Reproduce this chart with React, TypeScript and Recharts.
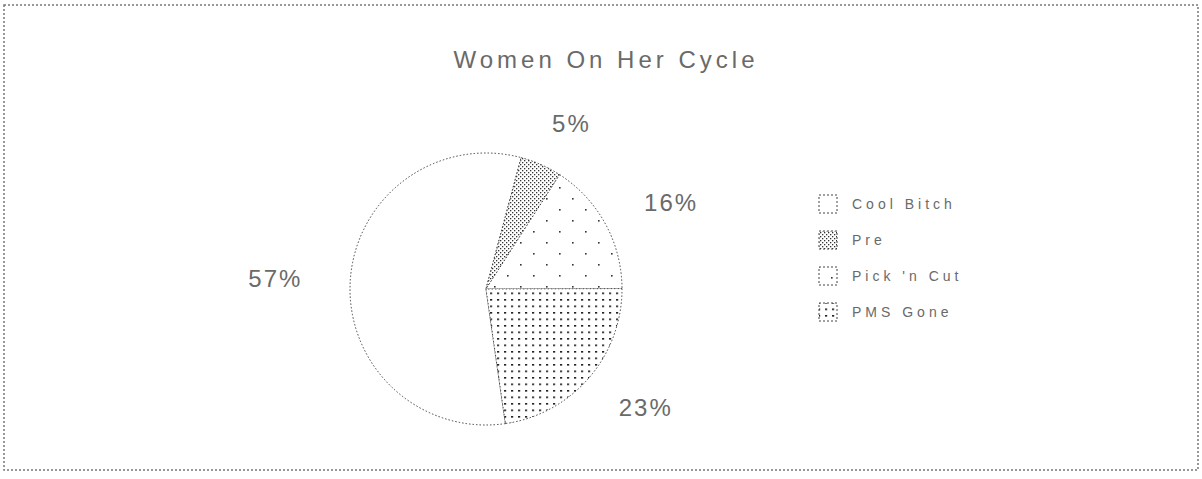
import { Pie, PieChart, Cell, Legend } from "recharts";

const categories = ["Cool Bitch", "Pre", "Pick 'n Cut", "PMS Gone"];
const percents = [57, 5, 16, 23];
const fills = ["#ffffff", "url(#patDense)", "url(#patSparse)", "url(#patGrid)"];

const chartTitle = "Women On Her Cycle";

const data = categories.map((name, i) => ({ name, value: percents[i] }));

const RADIAN = Math.PI / 180;
const FONT = "'Liberation Sans', Arial, sans-serif";
const INK = "#6a6a6a";

// labels sit on a flattened ring round the pie, like the old excel layout
function renderLabel(props: any) {
  const { cx, cy, midAngle, outerRadius, value } = props;
  const rx = outerRadius + 75;
  const ry = outerRadius + 45;
  const x = cx + rx * Math.cos(-midAngle * RADIAN);
  const y = cy + ry * Math.sin(-midAngle * RADIAN);
  return (
    <text
      x={x}
      y={y}
      textAnchor="middle"
      dominantBaseline="central"
      fontSize={24}
      fontFamily={FONT}
      fill={INK}
      letterSpacing={2}
    >
      {value}%
    </text>
  );
}

// payload order gets sorted by recharts, so draw the items in data order
function LegendBox() {
  return (
    <div style={{ fontFamily: FONT }}>
      {categories.map((name, i) => (
        <div key={name} style={{ display: "flex", alignItems: "center", height: 36 }}>
          <svg width={20} height={20} style={{ marginRight: 14 }}>
            <rect x={1} y={1} width={18} height={18} fill={fills[i]} stroke="#444" strokeWidth={1} strokeDasharray="2 2" />
          </svg>
          <span style={{ fontSize: 14, color: INK, letterSpacing: 4 }}>{name}</span>
        </div>
      ))}
    </div>
  );
}

export default function App() {
  return (
    <div style={{ position: "absolute", left: 0, top: 0, width: 1202, height: 479, background: "#fff" }}>
      <svg width={0} height={0} style={{ position: "absolute" }}>
        <defs>
          <pattern id="patDense" width={4} height={4} patternUnits="userSpaceOnUse">
            <rect width={4} height={4} fill="#fff" />
            <rect x={0} y={0} width={1.3} height={1.3} fill="#333" />
            <rect x={2} y={2} width={1.3} height={1.3} fill="#333" />
          </pattern>
          <pattern id="patSparse" width={26} height={22} patternUnits="userSpaceOnUse">
            <rect width={26} height={22} fill="#fff" />
            <rect x={0} y={0} width={1.6} height={1.6} fill="#333" />
            <rect x={13} y={11} width={1.6} height={1.6} fill="#333" />
          </pattern>
          <pattern id="patGrid" width={7} height={6.5} patternUnits="userSpaceOnUse">
            <rect width={7} height={6.5} fill="#fff" />
            <rect x={0} y={0} width={2.2} height={1.6} fill="#222" />
          </pattern>
        </defs>
      </svg>
      <svg width={1202} height={479} style={{ position: "absolute", left: 0, top: 0 }}>
        <rect x={4} y={5} width={1194} height={465} fill="none" stroke="#777" strokeWidth={1.5} strokeDasharray="2 2" />
      </svg>
      <div
        style={{
          position: "absolute",
          left: 0,
          top: 48,
          width: 1212,
          textAlign: "center",
          fontFamily: FONT,
          fontSize: 24,
          lineHeight: "24px",
          letterSpacing: 4,
          color: INK,
        }}
      >
        {chartTitle}
      </div>
      <div style={{ position: "absolute", left: 0, top: 0 }}>
        <PieChart width={1202} height={479} margin={{ top: 0, right: 0, bottom: 0, left: 0 }}>
          <Pie
            data={data}
            dataKey="value"
            nameKey="name"
            cx={486}
            cy={289}
            outerRadius={136}
            startAngle={-81.8}
            endAngle={-441.8}
            label={renderLabel}
            labelLine={false}
            stroke="#444"
            strokeWidth={1}
            strokeDasharray="1.5 2"
            isAnimationActive={false}
          >
            {data.map((d, i) => (
              <Cell key={d.name} fill={fills[i]} />
            ))}
          </Pie>
          <Legend
            layout="vertical"
            verticalAlign="middle"
            align="center"
            content={<LegendBox />}
            wrapperStyle={{ left: 818, top: 186, width: 200 }}
          />
        </PieChart>
      </div>
    </div>
  );
}
